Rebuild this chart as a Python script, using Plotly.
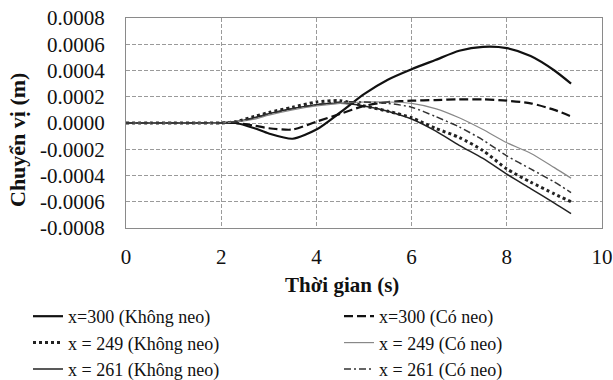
import plotly.graph_objects as go

# Time samples (s)
t = [0, 0.5, 1.0, 1.5, 2.0, 2.3, 2.7, 3.0, 3.5, 4.0, 4.5, 5.0, 5.5, 6.0, 6.5,
     7.0, 7.5, 8.0, 8.5, 9.0, 9.35]

# Displacement (m) at each section, without / with anchors
x300_khong_neo = [0, 0, 0, 0, 0, 0, -0.00004, -0.00008, -0.00012, -0.00005, 0.00008,
                  0.00022, 0.00033, 0.00041, 0.00048, 0.00055, 0.00058, 0.00057,
                  0.00051, 0.00040, 0.00030]
x249_khong_neo = [0, 0, 0, 0, 0, 0.00001, 0.00005, 0.00008, 0.00012, 0.00016, 0.00017,
                  0.00013, 0.00009, 0.00004, -0.00004, -0.00011, -0.00021, -0.00035,
                  -0.00045, -0.00054, -0.00060]
x261_khong_neo = [0, 0, 0, 0, 0, 0.00001, 0.00004, 0.00007, 0.00011, 0.00014, 0.00015,
                  0.00013, 0.00009, 0.00003, -0.00006, -0.00017, -0.00027, -0.00039,
                  -0.00050, -0.00061, -0.00069]
x300_co_neo = [0, 0, 0, 0, 0, 0, -0.00002, -0.00004, -0.00005, 0.00001, 0.00007,
               0.00013, 0.00016, 0.00017, 0.000175, 0.00018, 0.00018, 0.00017,
               0.00015, 0.00010, 0.00005]
x249_co_neo = [0, 0, 0, 0, 0, 0.00001, 0.00003, 0.00006, 0.00010, 0.00013, 0.00015,
               0.00016, 0.00016, 0.00015, 0.00011, 0.00004, -0.00005, -0.00015,
               -0.00023, -0.00034, -0.00042]
x261_co_neo = [0, 0, 0, 0, 0, 0.00001, 0.00004, 0.00007, 0.00011, 0.00014, 0.00016,
               0.00016, 0.00015, 0.00012, 0.00005, -0.00003, -0.00013, -0.00025,
               -0.00035, -0.00045, -0.00053]

y_ticks = [-0.0008, -0.0006, -0.0004, -0.0002, 0.0, 0.0002, 0.0004, 0.0006, 0.0008]
y_tick_text = ["-0.0008", "-0.0006", "-0.0004", "-0.0002", "0.0000",
               "0.0002", "0.0004", "0.0006", "0.0008"]
x_ticks = [0, 2, 4, 6, 8, 10]

FONT = "Liberation Serif, Times New Roman, serif"

series = [
    ("x=300 (Không neo)", x300_khong_neo, dict(color="#111", width=2.2, dash="solid"), "legend"),
    ("x = 249 (Không neo)", x249_khong_neo, dict(color="#222", width=3, dash="dot"), "legend"),
    ("x = 261 (Không neo)", x261_khong_neo, dict(color="#222", width=1.5, dash="solid"), "legend"),
    ("x=300 (Có neo)", x300_co_neo, dict(color="#111", width=2.2, dash="9px,4px"), "legend2"),
    ("x = 249 (Có neo)", x249_co_neo, dict(color="#888", width=1.2, dash="solid"), "legend2"),
    ("x = 261 (Có neo)", x261_co_neo, dict(color="#333", width=1.5, dash="7px,3px,2px,3px"), "legend2"),
]

fig = go.Figure()
for name, vals, line, leg in series:
    fig.add_trace(go.Scatter(
        x=t, y=vals, name=name, mode="lines",
        line=dict(shape="spline", smoothing=0.7, **line),
        legend=leg,
    ))

grid = dict(showgrid=True, gridcolor="#9a9a9a", gridwidth=1, griddash="4px,2px",
            showline=True, linecolor="#8a8a8a", linewidth=1, mirror=True,
            zeroline=False, ticks="", automargin=False)

# plot area: x 126..602 px, y 18..228 px
PL, PR, PT, PB = 126, 602, 18, 228
PW, PH = PR - PL, PB - PT


def px(x):
    return (x - PL) / PW


def py(y):
    return (PB - y) / PH


TICKFONT = dict(size=21, family=FONT, color="#111")
LEGFONT = dict(size=18, family=FONT, color="#111")

fig.update_layout(
    width=613, height=380,
    margin=dict(l=PL, r=613 - PR, t=PT, b=380 - PB, autoexpand=False),
    paper_bgcolor="white", plot_bgcolor="white",
    font=dict(family=FONT, color="#111", size=20),
    xaxis=dict(range=[0, 10], tickvals=x_ticks, ticklabelstandoff=10,
               tickfont=TICKFONT, **grid),
    yaxis=dict(range=[-0.0008, 0.0008], tickvals=y_ticks, ticktext=y_tick_text,
               ticklabelstandoff=16, tickfont=TICKFONT, **grid),
    legend=dict(x=px(28), y=py(298), xanchor="left", yanchor="top",
                orientation="v", font=LEGFONT,
                bgcolor="rgba(0,0,0,0)", itemwidth=30),
    legend2=dict(x=px(339), y=py(298), xanchor="left", yanchor="top",
                 orientation="v", font=LEGFONT,
                 bgcolor="rgba(0,0,0,0)", itemwidth=30),
    annotations=[
        dict(text="<b>Thời gian (s)</b>", xref="paper", yref="paper",
             x=px(342), y=py(285), showarrow=False,
             xanchor="center", yanchor="middle",
             font=dict(size=21, family=FONT, color="#111")),
        dict(text="<b>Chuyển vị (m)</b>", xref="paper", yref="paper",
             x=px(17), y=py(140), showarrow=False, textangle=-90,
             xanchor="center", yanchor="middle",
             font=dict(size=22, family=FONT, color="#111")),
    ],
)

fig.write_html("out.html")
